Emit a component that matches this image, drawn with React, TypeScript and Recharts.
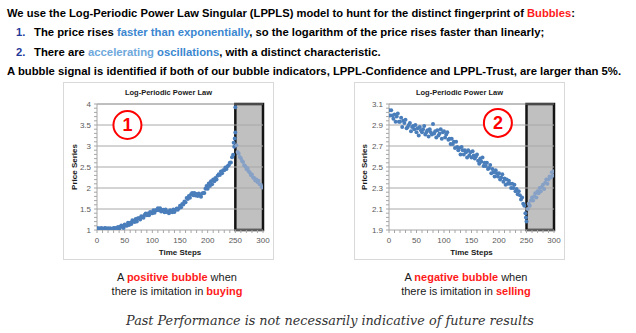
import React from 'react';
import { ScatterChart, Scatter, XAxis, YAxis, ReferenceArea, ReferenceDot, ReferenceLine } from 'recharts';

const FONT = '"Liberation Sans", Arial, Helvetica, sans-serif';

// ---------- data ----------
const TIME_STEPS_PRE = [
  0, 2, 4, 6, 8, 10, 12, 14, 16, 18,
  20, 22, 24, 26, 28, 30, 32, 34, 36, 38,
  40, 42, 44, 46, 48, 50, 52, 54, 56, 58,
  60, 62, 64, 66, 68, 70, 72, 74, 76, 78,
  80, 82, 84, 86, 88, 90, 92, 94, 96, 98,
  100, 102, 104, 106, 108, 110, 112, 114, 116, 118,
  120, 122, 124, 126, 128, 130, 132, 134, 136, 138,
  140, 142, 144, 146, 148, 150, 152, 154, 156, 158,
  160, 162, 164, 166, 168, 170, 172, 174, 176, 178,
  180, 182, 184, 186, 188, 190, 192, 194, 196, 198,
  200, 202, 204, 206, 208, 210, 212, 214, 216, 218,
  220, 222, 224, 226, 228, 230, 232, 234, 236, 238,
  240, 242, 244, 246, 248,
];
const TIME_STEPS_POST = [
  252, 254, 256, 258, 260, 262, 264, 266, 268, 270,
  272, 274, 276, 278, 280, 282, 284, 286, 288, 290,
  292, 294, 296, 298, 300,
];

const POSITIVE_PRE = [
  1.05, 1.03, 1.04, 1.02, 1.05, 1.03, 1.02, 1.05, 1.04, 1.02,
  1.04, 1.02, 1.04, 1.02, 1.02, 1.05, 1.04, 1.05, 1.03, 1.07,
  1.02, 1.08, 1.11, 1.07, 1.05, 1.13, 1.11, 1.1, 1.17, 1.12,
  1.17, 1.14, 1.23, 1.2, 1.19, 1.26, 1.2, 1.28, 1.28, 1.25,
  1.33, 1.31, 1.29, 1.36, 1.39, 1.35, 1.39, 1.35, 1.43, 1.41,
  1.4, 1.47, 1.41, 1.47, 1.47, 1.52, 1.47, 1.52, 1.44, 1.47,
  1.48, 1.42, 1.49, 1.43, 1.44, 1.4, 1.47, 1.45, 1.42, 1.49,
  1.43, 1.48, 1.51, 1.48, 1.52, 1.58, 1.54, 1.62, 1.61, 1.68,
  1.66, 1.76, 1.74, 1.81, 1.77, 1.85, 1.88, 1.83, 1.88, 1.82,
  1.86, 1.81, 1.87, 1.82, 1.79, 1.87, 1.88, 1.88, 1.98, 2.05,
  1.98, 2.11, 2.05, 2.16, 2.09, 2.2, 2.16, 2.24, 2.2, 2.29,
  2.33, 2.31, 2.39, 2.35, 2.42, 2.42, 2.49, 2.45, 2.52, 2.54,
  2.6, 2.61, 2.73, 2.79, 2.98,
];
const POSITIVE_PEAK_STEPS = [247, 249, 250, 250];
const POSITIVE_PEAK = [3.08, 3.18, 3.32, 3.92];
const POSITIVE_POST = [
  3.02, 2.86, 2.82, 2.74, 2.71, 2.64, 2.62, 2.54, 2.52, 2.45,
  2.47, 2.4, 2.37, 2.31, 2.32, 2.25, 2.24, 2.18, 2.2, 2.14,
  2.17, 2.09, 2.08, 2.02, 2.01,
];

const NEGATIVE_PRE = [
  3.04, 2.99, 3.04, 2.99, 2.96, 3.0, 2.93, 2.98, 3.01, 2.93,
  2.93, 2.97, 2.88, 2.94, 2.92, 2.95, 2.87, 2.88, 2.9, 2.92,
  2.84, 2.88, 2.89, 2.86, 2.9, 2.83, 2.87, 2.8, 2.88, 2.85,
  2.83, 2.86, 2.89, 2.81, 2.83, 2.85, 2.79, 2.86, 2.83, 2.81,
  2.91, 2.82, 2.84, 2.78, 2.85, 2.8, 2.82, 2.86, 2.77, 2.83,
  2.84, 2.78, 2.81, 2.83, 2.76, 2.77, 2.72, 2.77, 2.72, 2.74,
  2.68, 2.74, 2.69, 2.66, 2.68, 2.62, 2.69, 2.66, 2.62, 2.66,
  2.64, 2.59, 2.66, 2.61, 2.64, 2.59, 2.65, 2.61, 2.58, 2.6,
  2.62, 2.56, 2.53, 2.58, 2.55, 2.59, 2.51, 2.54, 2.51, 2.54,
  2.48, 2.49, 2.52, 2.44, 2.48, 2.45, 2.41, 2.47, 2.44, 2.41,
  2.44, 2.38, 2.4, 2.43, 2.36, 2.39, 2.33, 2.38, 2.34, 2.37,
  2.34, 2.3, 2.34, 2.3, 2.33, 2.27, 2.29, 2.24, 2.27, 2.23,
  2.19, 2.21, 2.15, 2.13, 2.06,
];
const NEGATIVE_PEAK_STEPS = [249, 250];
const NEGATIVE_PEAK = [2.02, 1.98];
const NEGATIVE_POST = [
  2.1, 2.15, 2.13, 2.18, 2.21, 2.18, 2.22, 2.25, 2.21, 2.27,
  2.25, 2.3, 2.27, 2.31, 2.33, 2.29, 2.35, 2.38, 2.34, 2.38,
  2.41, 2.4, 2.45, 2.42, 2.46,
];

const X_MAJOR_TICKS = [0, 50, 100, 150, 200, 250, 300];
const X_MINOR_TICKS = [
  0, 10, 20, 30, 40, 50, 60, 70, 80, 90, 100, 110, 120, 130, 140, 150,
  160, 170, 180, 190, 200, 210, 220, 230, 240, 250, 260, 270, 280, 290, 300,
];
const POSITIVE_Y_MAJOR = [1, 1.5, 2, 2.5, 3, 3.5, 4];
const POSITIVE_Y_LABELS = ['1', '1.5', '2', '2.5', '3', '3.5', '4'];
const POSITIVE_Y_MINOR = [
  1, 1.1, 1.2, 1.3, 1.4, 1.5, 1.6, 1.7, 1.8, 1.9, 2, 2.1, 2.2, 2.3, 2.4, 2.5,
  2.6, 2.7, 2.8, 2.9, 3, 3.1, 3.2, 3.3, 3.4, 3.5, 3.6, 3.7, 3.8, 3.9, 4,
];
const NEGATIVE_Y_MAJOR = [1.9, 2.1, 2.3, 2.5, 2.7, 2.9, 3.1];
const NEGATIVE_Y_LABELS = ['1.9', '2.1', '2.3', '2.5', '2.7', '2.9', '3.1'];
const NEGATIVE_Y_MINOR = [
  1.9, 1.94, 1.98, 2.02, 2.06, 2.1, 2.14, 2.18, 2.22, 2.26, 2.3, 2.34, 2.38,
  2.42, 2.46, 2.5, 2.54, 2.58, 2.62, 2.66, 2.7, 2.74, 2.78, 2.82, 2.86, 2.9,
  2.94, 2.98, 3.02, 3.06, 3.1,
];

const zip = (steps: number[], vals: number[]) => steps.map((t, i) => ({ t, p: vals[i] }));

// ---------- styling helpers ----------
const AXIS = '#a6a6a6';
const GRID = '#a8a8a8';
const TICK_TEXT = '#595959';
const DOT = '#4a7ebb';
const DOT_LIGHT = '#87a1c6';

const dotShape = (color: string) => (props: any) =>
  props.cx == null ? <g /> : <circle cx={props.cx} cy={props.cy} r={2} fill={color} />;

const xTick = (props: any) => {
  const { x, y, payload } = props;
  if (!X_MAJOR_TICKS.some((m) => Math.abs(m - payload.value) < 1e-6)) return <g />;
  return (
    <text x={x} y={y} dy="0.71em" textAnchor="middle" fill={TICK_TEXT} fontSize={8} fontFamily={FONT}>
      {payload.value}
    </text>
  );
};

const makeYTick = (majors: number[], labels: string[]) => (props: any) => {
  const { x, y, payload } = props;
  const idx = majors.findIndex((m) => Math.abs(m - payload.value) < 1e-6);
  if (idx < 0) return <g />;
  return (
    <text x={x} y={y} dy="0.35em" textAnchor="end" fill={TICK_TEXT} fontSize={8} fontFamily={FONT}>
      {labels[idx]}
    </text>
  );
};

const XTitle = (props: any) => {
  const vb = props.viewBox || { x: 0, y: 0, width: 0 };
  return (
    <text x={vb.x + vb.width / 2} y={vb.y + 22} dy="0.35em" textAnchor="middle" fontSize={8} fontWeight="bold" fontFamily={FONT} fill="#1a1a1a">
      Time Steps
    </text>
  );
};

const YTitle = (props: any) => {
  const vb = props.viewBox || { x: 0, y: 0, height: 0 };
  const cx = vb.x + props.dx0;
  const cy = vb.y + vb.height / 2;
  return (
    <text x={cx} y={cy} dy="0.35em" transform={`rotate(-90 ${cx} ${cy})`} textAnchor="middle" fontSize={8} fontWeight="bold" fontFamily={FONT} fill="#1a1a1a">
      Price Series
    </text>
  );
};

type PanelProps = {
  left: number;
  yAxisWidth: number;
  pre: { t: number; p: number }[];
  peak: { t: number; p: number }[];
  post: { t: number; p: number }[];
  yDomain: [number, number];
  yMajor: number[];
  yLabels: string[];
  yMinor: number[];
  badge: string;
  badgeX: number;
  badgeY: number;
  yTitleX: number;
};

function Panel(p: PanelProps) {
  const W = 211;
  const H = 178;
  return (
    <>
      <div style={{ position: 'absolute', left: p.left, top: 82, width: W, height: H, border: '1px solid #d9d9d9', boxSizing: 'border-box', background: '#fff' }} />
      <div style={{ position: 'absolute', left: p.left, top: 88, width: W, textAlign: 'center', fontFamily: FONT, fontWeight: 'bold', fontSize: 7.5, lineHeight: '10px', color: '#1a1a1a' }}>
        Log-Periodic Power Law
      </div>
      <div style={{ position: 'absolute', left: p.left, top: 82 }}>
        <ScatterChart width={W} height={H} margin={{ top: 22, right: 11, bottom: 0, left: 0 }}>
          <XAxis
            type="number"
            dataKey="t"
            domain={[0, 300]}
            ticks={X_MINOR_TICKS}
            interval={0}
            height={30}
            tickSize={3}
            tickMargin={4}
            tick={xTick}
            axisLine={{ stroke: AXIS }}
            tickLine={{ stroke: AXIS }}
            label={<XTitle />}
            allowDataOverflow
          />
          <YAxis
            type="number"
            dataKey="p"
            domain={p.yDomain}
            ticks={p.yMinor}
            interval={0}
            width={p.yAxisWidth}
            tickSize={3}
            tickMargin={3}
            tick={makeYTick(p.yMajor, p.yLabels)}
            axisLine={{ stroke: AXIS }}
            tickLine={{ stroke: AXIS }}
            label={<YTitle dx0={p.yTitleX} />}
            allowDataOverflow
          />
          {p.yMajor.slice(1).map((v, i) => (
            <ReferenceLine key={v} y={v} stroke={i === p.yMajor.length - 2 ? '#7f7f7f' : GRID} strokeWidth={1} />
          ))}
          <ReferenceArea x1={250} x2={300} y1={p.yDomain[0]} y2={p.yDomain[1]} fill="#c0c0c0" fillOpacity={1} stroke="#141414" strokeWidth={2.5} />
          <Scatter data={p.pre} dataKey="p" shape={dotShape(DOT)} isAnimationActive={false} />
          <Scatter data={p.peak} dataKey="p" shape={dotShape(DOT)} isAnimationActive={false} />
          <Scatter data={p.post} dataKey="p" shape={dotShape(DOT_LIGHT)} isAnimationActive={false} />
          <ReferenceDot
            x={p.badgeX}
            y={p.badgeY}
            r={14}
            fill="#ffffff"
            stroke="#ff0000"
            strokeWidth={2}
            label={{ value: p.badge, position: 'center', fill: '#ff0000', fontSize: 18, fontWeight: 'bold', fontFamily: FONT }}
          />
        </ScatterChart>
      </div>
    </>
  );
}

export default function App() {
  const blue = '#3b87d0';
  const lightBlue = '#6ea8dc';
  const navy = '#1f3a9a';
  const red = '#ff1a1a';
  const base: React.CSSProperties = { position: 'absolute', whiteSpace: 'nowrap', fontFamily: FONT, color: '#000' };
  return (
    <div style={{ position: 'absolute', left: 0, top: 0, width: 636, height: 333, background: '#fff', overflow: 'hidden' }}>
      <div style={{ ...base, left: 7, top: 6, fontSize: 11.2, fontWeight: 'bold', lineHeight: '14px' }}>
        We use the Log-Periodic Power Law Singular (LPPLS) model to hunt for the distinct fingerprint of <span style={{ color: red }}>Bubbles</span>:
      </div>
      <div style={{ ...base, left: 16, top: 25, fontSize: 11.2, fontWeight: 'bold', lineHeight: '14px', color: navy }}>1.</div>
      <div style={{ ...base, left: 34, top: 25, fontSize: 11.3, fontWeight: 'bold', lineHeight: '14px' }}>
        The price rises <span style={{ color: blue }}>faster than exponentially</span>, so the logarithm of the price rises faster than linearly;
      </div>
      <div style={{ ...base, left: 16, top: 44.5, fontSize: 11.2, fontWeight: 'bold', lineHeight: '14px', color: navy }}>2.</div>
      <div style={{ ...base, left: 34, top: 44.5, fontSize: 11.3, fontWeight: 'bold', lineHeight: '14px' }}>
        There are <span style={{ color: lightBlue }}>accelerating</span> <span style={{ color: blue }}>oscillations</span>, with a distinct characteristic.
      </div>
      <div style={{ ...base, left: 7, top: 63.5, fontSize: 11.3, fontWeight: 'bold', lineHeight: '14px' }}>
        A bubble signal is identified if both of our bubble indicators, LPPL-Confidence and LPPL-Trust, are larger than 5%.
      </div>

      <Panel
        left={63}
        yAxisWidth={34}
        pre={zip(TIME_STEPS_PRE, POSITIVE_PRE)}
        peak={zip(POSITIVE_PEAK_STEPS, POSITIVE_PEAK)}
        post={zip(TIME_STEPS_POST, POSITIVE_POST)}
        yDomain={[1, 4]}
        yMajor={POSITIVE_Y_MAJOR}
        yLabels={POSITIVE_Y_LABELS}
        yMinor={POSITIVE_Y_MINOR}
        badge="1"
        badgeX={55}
        badgeY={3.5}
        yTitleX={11}
      />
      <Panel
        left={354}
        yAxisWidth={35}
        pre={zip(TIME_STEPS_PRE, NEGATIVE_PRE)}
        peak={zip(NEGATIVE_PEAK_STEPS, NEGATIVE_PEAK)}
        post={zip(TIME_STEPS_POST, NEGATIVE_POST)}
        yDomain={[1.9, 3.1]}
        yMajor={NEGATIVE_Y_MAJOR}
        yLabels={NEGATIVE_Y_LABELS}
        yMinor={NEGATIVE_Y_MINOR}
        badge="2"
        badgeX={198}
        badgeY={2.92}
        yTitleX={10}
      />

      <div style={{ ...base, left: 77, top: 270, width: 200, textAlign: 'center', fontSize: 11, lineHeight: '14.4px', color: '#1a1a1a' }}>
        A <b style={{ color: red }}>positive bubble</b> when
        <br />
        there is imitation in <b style={{ color: red }}>buying</b>
      </div>
      <div style={{ ...base, left: 366, top: 270, width: 200, textAlign: 'center', fontSize: 11, lineHeight: '14.4px', color: '#1a1a1a' }}>
        A <b style={{ color: red }}>negative bubble</b> when
        <br />
        there is imitation in <b style={{ color: red }}>selling</b>
      </div>
      <div style={{ ...base, left: 0, top: 313, width: 660, textAlign: 'center', fontFamily: '"DejaVu Serif", Georgia, serif', fontStyle: 'italic', fontSize: 12.8, lineHeight: '15px', color: '#333' }}>
        Past Performance is not necessarily indicative of future results
      </div>
    </div>
  );
}
